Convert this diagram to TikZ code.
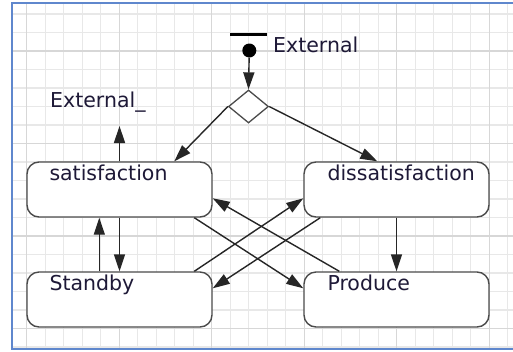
\documentclass[tikz,border=0pt]{standalone}
\usepackage{fontspec}
\setmainfont{DejaVu Sans}
\usetikzlibrary{shapes.geometric,arrows.meta,calc}
\definecolor{gridminor}{RGB}{232,232,232}
\definecolor{gridmajor}{RGB}{215,215,215}
\definecolor{frameblue}{RGB}{95,135,205}
\definecolor{boxline}{RGB}{75,75,75}
\definecolor{txt}{RGB}{30,25,55}
\tikzset{
  statebox/.style={draw=boxline, line width=1.4pt, rounded corners=12pt, fill=white,
    minimum width=185pt, minimum height=55pt, inner sep=0pt},
  lbl/.style={text=txt, inner sep=0pt, anchor=base west},
  conn/.style={draw=black!85, line width=1.4pt, -{Triangle[length=17pt,width=11pt]}},
  minorline/.style={draw=gridminor, line width=1.3pt},
  majorline/.style={draw=gridmajor, line width=1.3pt},
}
\begin{document}
\begin{tikzpicture}[x=1pt,y=-1pt,font=\fontsize{20.5}{24}\selectfont]
\useasboundingbox (0,0) rectangle (513,351);
\fill[white] (0,0) rectangle (513,351);
% grid
\begin{scope}
\clip (12,3) rectangle (513,349);
\foreach \k in {0,...,26} { \draw[minorline] (26.7+18.5*\k,0) -- (26.7+18.5*\k,351); }
\foreach \k in {-1,...,18} { \draw[minorline] (0,14+18.5*\k) -- (513,14+18.5*\k); }
\foreach \xx in {26.7,119.2,211.7,304.2,396.7,489.2} { \draw[majorline] (\xx,0) -- (\xx,351); }
\foreach \yy in {51,143.5,236,328.5} { \draw[majorline] (0,\yy) -- (513,\yy); }
\end{scope}
% frame
\draw[frameblue, line width=1.6pt] (513,3) -- (12,3) -- (12,349) -- (513,349);

% states
\node[statebox] (sat) at (119.5,189.5) {};
\node[statebox] (dis) at (396.5,189.5) {};
\node[statebox] (stb) at (119.5,299.5) {};
\node[statebox] (prod) at (396.5,299.5) {};
\node[lbl] (satL) at ($(sat.north west)+(23,19)$) {satisfaction};
\node[lbl] (disL) at ($(dis.north west)+(24,19)$) {dissatisfaction};
\node[lbl] (stbL) at ($(stb.north west)+(23,19)$) {Standby};
\node[lbl] (prodL) at ($(prod.north west)+(24,19)$) {Produce};

% initial
\node[fill=black, minimum width=37pt, minimum height=3.2pt, inner sep=0pt] (bar) at (248.5,34.5) {};
\node[circle, fill=black, minimum size=14pt, inner sep=0pt] (init) at (249.3,50.5) {};
\node[lbl] (extTop) at (273,52) {External};
\node[diamond, draw=boxline, line width=1.3pt, fill=white, minimum width=40pt,
  minimum height=33pt, inner sep=0pt] (dec) at (248.5,106.5) {};
\node[lbl] (extL) at (50,107) {External\_};
\coordinate (extEnd) at (119.5,126);

% connectors
\draw[conn] (init) -- (dec.north);
\draw[conn] (dec.west) -- ($(sat.north west)+(148,0)$);
\draw[conn] (dec.east) -- ($(dis.north west)+(74,0)$);
\draw[conn] (sat.north) -- (extEnd);
\draw[conn] ($(stb.north west)+(73,0)$) -- ($(sat.south west)+(73,0)$);
\draw[conn] (sat.south) -- (stb.north);
\draw[conn] (dis.south) -- (prod.north);
\draw[conn] ($(sat.south west)+(168,0)$) -- ($(prod.north west)+(0,17)$);
\draw[conn] ($(prod.north west)+(36,0)$) -- ($(sat.north east)+(0,37)$);
\draw[conn] ($(stb.north west)+(168,0)$) -- ($(dis.north west)+(0,37)$);
\draw[conn] ($(dis.south west)+(17,0)$) -- ($(stb.north east)+(0,17)$);
\end{tikzpicture}
\end{document}
